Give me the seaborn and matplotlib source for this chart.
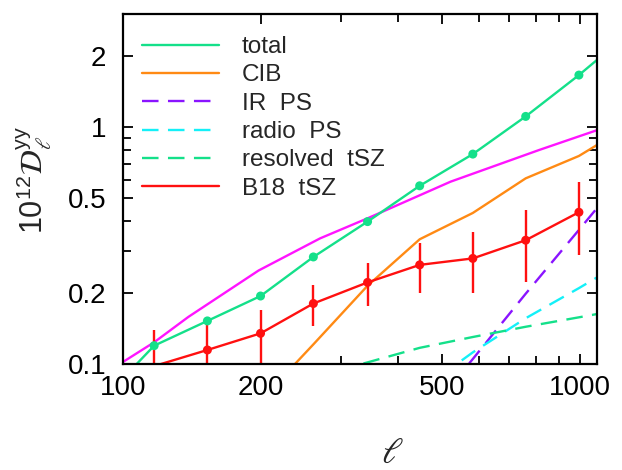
import matplotlib
matplotlib.use("Agg")
import matplotlib.pyplot as plt
import matplotlib.ticker as mticker
import seaborn as sns
import numpy as np

# ---------------- data ----------------
ell_bins = [117, 153, 200, 261, 343, 446, 583, 761, 995]

total_bins = [0.1195, 0.152, 0.1936, 0.283, 0.399, 0.565, 0.769, 1.109, 1.657]
total_line_ell = [100, 117, 153, 200, 261, 343, 446, 583, 761, 995, 1090]
total_line = [0.087, 0.1195, 0.152, 0.1936, 0.283, 0.399, 0.565, 0.769, 1.109, 1.657, 1.92]

cib_ell = [200, 261, 343, 446, 583, 761, 995, 1090]
cib = [0.070, 0.121, 0.214, 0.336, 0.434, 0.6075, 0.755, 0.84]

irps_ell = [446, 583, 761, 995, 1090]
irps = [0.056, 0.105, 0.198, 0.368, 0.455]

radio_ell = [446, 583, 761, 995, 1090]
radio = [0.077, 0.112, 0.156, 0.209, 0.232]

restsz_ell = [261, 343, 446, 583, 761, 995, 1090]
restsz = [0.088, 0.1016, 0.117, 0.130, 0.1436, 0.1574, 0.1625]

b18 = [0.098, 0.1146, 0.1347, 0.180, 0.221, 0.262, 0.279, 0.333, 0.437]
b18_err = [0.041, 0.043, 0.034, 0.035, 0.045, 0.062, 0.080, 0.112, 0.149]

model_ell = [100, 117, 139, 198, 270, 343, 521, 814, 1090]
model = [0.102, 0.1235, 0.158, 0.248, 0.339, 0.412, 0.588, 0.80, 0.97]

xticks = [100, 200, 500, 1000]
xticklabels = ["100", "200", "500", "1000"]
yticks = [0.1, 0.2, 0.5, 1, 2]
yticklabels = ["0.1", "0.2", "0.5", "1", "2"]

# ---------------- style ----------------
sns.set_theme(style="ticks")
plt.rcParams["font.family"] = ["Liberation Sans", "DejaVu Sans"]
plt.rcParams["mathtext.fontset"] = "stix"

c_total = "#14e08a"
c_cib = "#ff8a14"
c_ir = "#8a14ff"
c_radio = "#14f0f8"
c_rtsz = "#14e08a"
c_b18 = "#ff1010"
c_model = "#ff14ff"
lw = 1.7
dash = (7, 4)

fig = plt.figure(figsize=(6.22, 4.70), dpi=100)
ax = fig.add_axes([123 / 622, 1 - 364 / 470, (597 - 123) / 622, (364 - 14) / 470])
ax.set_xscale("log")
ax.set_yscale("log")

sns.lineplot(x=model_ell, y=model, ax=ax, color=c_model, lw=lw, sort=False,
             estimator=None, legend=False)
sns.lineplot(x=total_line_ell, y=total_line, ax=ax, color=c_total, lw=lw, sort=False,
             estimator=None, label="total")
sns.lineplot(x=cib_ell, y=cib, ax=ax, color=c_cib, lw=lw, sort=False,
             estimator=None, label="CIB")
sns.lineplot(x=irps_ell, y=irps, ax=ax, color=c_ir, lw=lw, sort=False,
             estimator=None, label="IR  PS")
sns.lineplot(x=radio_ell, y=radio, ax=ax, color=c_radio, lw=lw, sort=False,
             estimator=None, label="radio  PS")
sns.lineplot(x=restsz_ell, y=restsz, ax=ax, color=c_rtsz, lw=lw, sort=False,
             estimator=None, label="resolved  tSZ")
sns.lineplot(x=ell_bins, y=b18, ax=ax, color=c_b18, lw=lw, sort=False,
             estimator=None, label="B18  tSZ")

for ln in ax.get_lines():
    if ln.get_label() in ("IR  PS", "radio  PS", "resolved  tSZ"):
        ln.set_dashes(dash)

# error bars for B18
ax.errorbar(ell_bins, b18, yerr=b18_err, fmt="none", ecolor=c_b18, elinewidth=lw,
            capsize=0)

ylo, yhi = 0.1, 3.0
vis = np.array(b18) >= ylo
sns.scatterplot(x=np.array(ell_bins)[vis], y=np.array(b18)[vis], ax=ax, color=c_b18,
                s=42, edgecolor="none", legend=False, zorder=5)
sns.scatterplot(x=ell_bins, y=total_bins, ax=ax, color=c_total, s=42,
                edgecolor="none", legend=False, zorder=5)

ax.set_xlim(100, 1090)
ax.set_ylim(ylo, yhi)

ax.xaxis.set_major_locator(mticker.FixedLocator(xticks))
ax.xaxis.set_major_formatter(mticker.FixedFormatter(xticklabels))
ax.xaxis.set_minor_locator(mticker.FixedLocator([300, 400, 600, 700, 800, 900]))
ax.xaxis.set_minor_formatter(mticker.NullFormatter())
ax.yaxis.set_major_locator(mticker.FixedLocator(yticks))
ax.yaxis.set_major_formatter(mticker.FixedFormatter(yticklabels))
ax.yaxis.set_minor_locator(mticker.FixedLocator([0.3, 0.4, 0.6, 0.7, 0.8, 0.9]))
ax.yaxis.set_minor_formatter(mticker.NullFormatter())

ax.tick_params(which="both", direction="in", top=True, right=True, colors="black",
               labelsize=20, width=1.3)
ax.tick_params(which="major", length=7)
ax.tick_params(which="minor", length=6)
ax.tick_params(axis="x", which="major", pad=8)
ax.tick_params(axis="y", which="major", pad=12)

for sp in ax.spines.values():
    sp.set_visible(True)
    sp.set_linewidth(1.6)
    sp.set_color("black")

ax.set_xlabel(r"$\ell$", fontsize=26)
ax.xaxis.set_label_coords((392 - 123) / 474, -0.205)
ax.set_ylabel(r"10$^{\mathregular{12}}\mathcal{D}_{\ell}^{\mathregular{yy}}$", fontsize=22)
ax.yaxis.set_label_coords(-0.145, 0.525)

leg = ax.legend(loc="upper left", bbox_to_anchor=(0.041, 0.937), frameon=False,
                fontsize=17.5, handlelength=3.15, handletextpad=0.95, labelspacing=0.26,
                borderpad=0, borderaxespad=0)
for h in leg.get_lines():
    h.set_linewidth(lw)

fig.savefig("out.png", dpi=100)
